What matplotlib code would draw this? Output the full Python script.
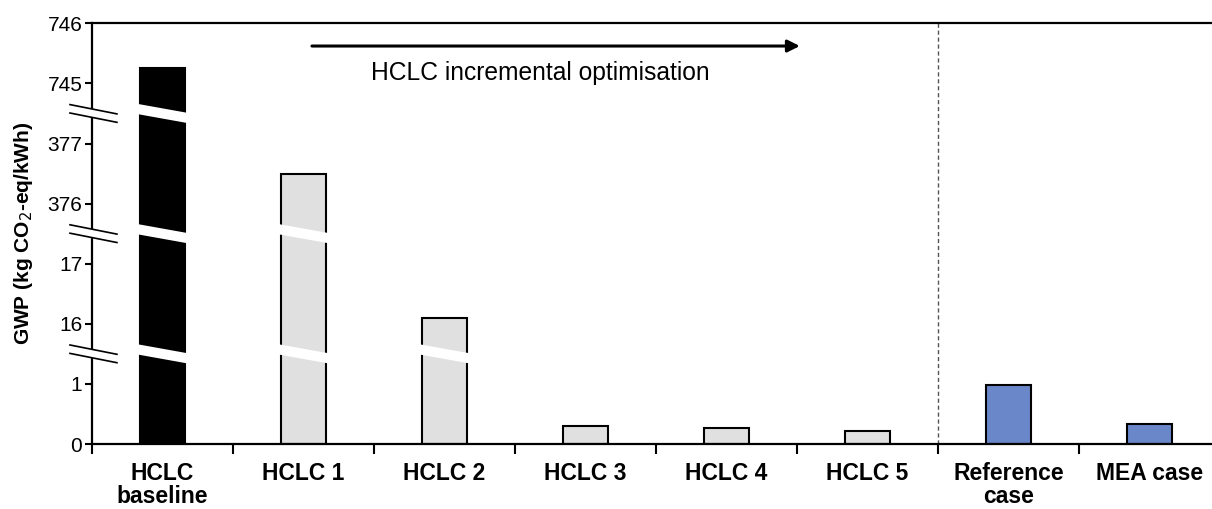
import numpy as np
import matplotlib
matplotlib.use("Agg")
import matplotlib.pyplot as plt
from matplotlib.patches import Polygon
from matplotlib.lines import Line2D
from matplotlib.ticker import NullLocator, FixedLocator

plt.rcParams['font.family'] = ['Liberation Sans', 'DejaVu Sans']

# Data
categories = ["HCLC\nbaseline", "HCLC 1", "HCLC 2", "HCLC 3", "HCLC 4",
              "HCLC 5", "Reference\ncase", "MEA case"]
gwp = [745.25, 376.49, 16.10, 0.30, 0.26, 0.21, 0.98, 0.33]
bar_colors = ["#000000", "#e0e0e0", "#e0e0e0", "#e0e0e0", "#e0e0e0",
              "#e0e0e0", "#6a87c9", "#6a87c9"]
y_ticks = [0, 1, 16, 17, 376, 377, 745, 746]

# Broken axis: each displayed segment [a, a+1] gets one unit of height
seg_pos = np.arange(len(y_ticks), dtype=float)


def fwd(v):
    return np.interp(v, y_ticks, seg_pos)


def inv(p):
    return np.interp(p, seg_pos, y_ticks)


fig = plt.figure(figsize=(12.12, 5.09), dpi=100)
ax = fig.add_axes([0.0759, 0.1277, 0.9307, 0.8265])
ax.set_yscale('function', functions=(fwd, inv))

x = np.arange(len(categories))
bar_w = 0.32
ax.bar(x, gwp, width=bar_w, color=bar_colors, edgecolor='black',
       linewidth=1.5, zorder=2)

ax.set_xlim(-0.5, len(categories) - 0.5)
ax.set_ylim(0, 746)

# y axis
ax.yaxis.set_major_locator(FixedLocator(y_ticks))
ax.yaxis.set_minor_locator(NullLocator())
ax.set_yticklabels([str(t) for t in y_ticks], fontsize=15)
ax.tick_params(axis='y', direction='out', length=5, width=1.5, pad=2)
ax.set_ylabel("GWP (kg CO$_2$-eq/kWh)", fontsize=15, fontweight='bold',
              labelpad=9)

# x axis: labels at bar centres, ticks at category boundaries
ax.set_xticks(x)
ax.set_xticklabels(categories, fontsize=16.5, fontweight='bold',
                   linespacing=0.98)
ax.tick_params(axis='x', which='major', length=0, pad=13)
ax.xaxis.set_minor_locator(FixedLocator(np.arange(-0.5, len(categories), 1.0)))
ax.tick_params(axis='x', which='minor', direction='out', length=7, width=1.5)

for side in ['left', 'bottom', 'top']:
    ax.spines[side].set_linewidth(1.6)
ax.spines['right'].set_visible(False)

# Axis breaks: white slanted bands through the bars and "//" on the spine
breaks = [1.5, 3.5, 5.5]
band_h = 0.17
drop = 0.16
ext = 0.19
for b in breaks:
    bval = inv(b)
    for xi, v in zip(x, gwp):
        if v > bval:
            xl, xr = xi - ext, xi + ext
            pts = [(xl, b + drop / 2 + band_h / 2), (xr, b - drop / 2 + band_h / 2),
                   (xr, b - drop / 2 - band_h / 2), (xl, b + drop / 2 - band_h / 2)]
            pts = [(px, inv(py)) for px, py in pts]
            ax.add_patch(Polygon(pts, closed=True, facecolor='white',
                                 edgecolor='none', zorder=3))
    # spine break marks
    sl, sr = -0.656, -0.323
    sdrop = 0.155
    gap = 0.07
    fill = [(sl, b + sdrop / 2 + gap), (sr, b - sdrop / 2 + gap),
            (sr, b - sdrop / 2 - gap), (sl, b + sdrop / 2 - gap)]
    ax.add_patch(Polygon([(px, inv(py)) for px, py in fill], closed=True,
                         facecolor='white', edgecolor='none', zorder=4,
                         clip_on=False))
    for off in (gap, -gap):
        ax.add_line(Line2D([sl, sr],
                           [inv(b + sdrop / 2 + off), inv(b - sdrop / 2 + off)],
                           color='black', lw=1.2, zorder=5, clip_on=False))

# Separator between HCLC variants and comparison cases
ax.axvline(5.5, color='#555555', lw=1.0, ls=(0, (3, 2)), zorder=1)

# Optimisation arrow and caption
trans = ax.get_xaxis_transform()
ax.annotate('', xy=(4.52, 0.946), xytext=(1.06, 0.946), xycoords=trans,
            textcoords=trans,
            arrowprops=dict(arrowstyle='-|>', lw=2.2, color='black',
                            mutation_scale=18, shrinkA=0, shrinkB=0))
ax.text(2.677, 0.882, "HCLC incremental optimisation", transform=trans,
        ha='center', va='center', fontsize=17.7)

fig.savefig("out.png", dpi=100)
